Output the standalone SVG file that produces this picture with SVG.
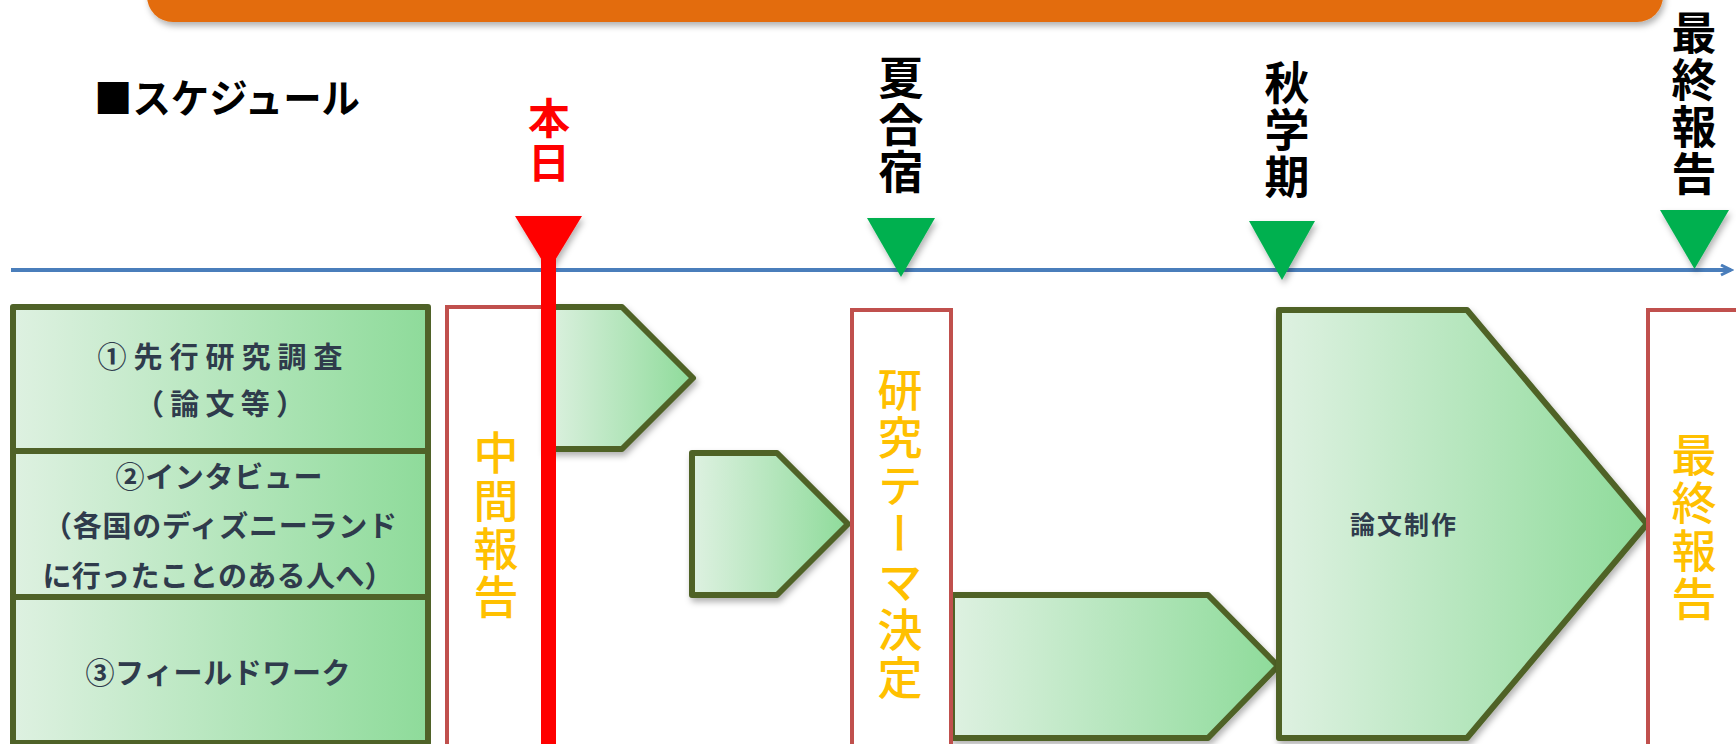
<svg xmlns="http://www.w3.org/2000/svg" width="1736" height="744" viewBox="0 0 1736 744">
<style>
.jp{font-family:"Noto Sans CJK JP","Noto Sans CJK SC",sans-serif;}
.box{stroke:#4F6228;stroke-width:6;stroke-linejoin:round;}
.rbox{fill:#FFFFFF;stroke:#C0504D;stroke-width:4;}
.lbl{font-size:29px;font-weight:700;fill:#2F3B4C;text-anchor:middle;}
.vt{writing-mode:vertical-rl;font-weight:700;}
.blk{fill:#000000;font-size:45px;letter-spacing:2px;}
.org{fill:#FFC000;font-size:45px;font-weight:500;letter-spacing:3px;}
.tri{fill:#00B050;}
</style>
<defs>
<linearGradient id="g" x1="0" y1="0" x2="1" y2="0">
<stop offset="0" stop-color="#DEF1E1"/>
<stop offset="1" stop-color="#8EDB9A"/>
</linearGradient>
<filter id="sh" x="-10%" y="-10%" width="130%" height="140%">
<feDropShadow dx="2" dy="4" stdDeviation="3" flood-color="#000" flood-opacity="0.3"/>
</filter>
<marker id="arr" markerWidth="14" markerHeight="14" refX="11" refY="6" orient="auto" markerUnits="userSpaceOnUse">
<path d="M1,1 L11,6 L1,11" fill="none" stroke="#4A7EBB" stroke-width="3"/>
</marker>
</defs>
<rect width="1736" height="744" fill="#FFFFFF"/>

<g id="banner">
<rect x="147" y="-40" width="1516" height="62" rx="26" fill="#E36C0A" filter="url(#sh)"/>
</g>

<g id="title">
<text class="jp" x="94" y="113" font-size="40" font-weight="700" fill="#000" textLength="266" lengthAdjust="spacingAndGlyphs">■スケジュール</text>
</g>

<g id="connectors">
<line x1="11" y1="270" x2="1731" y2="270" stroke="#4A7EBB" stroke-width="4" marker-end="url(#arr)"/>
</g>

<g id="box1">
<rect class="box" x="13" y="307" width="415" height="144" fill="url(#g)"/>
<text class="jp lbl" x="220" y="368" font-size="30" textLength="245" lengthAdjust="spacing">①先行研究調査</text>
<text class="jp lbl" x="220" y="415" font-size="28" textLength="170" lengthAdjust="spacing">（論文等）</text>
</g>
<g id="box2">
<rect class="box" x="13" y="451" width="415" height="146" fill="url(#g)"/>
<text class="jp lbl" x="219" y="488" textLength="207" lengthAdjust="spacing">②インタビュー</text>
<text class="jp lbl" x="220" y="537" textLength="354" lengthAdjust="spacing">（各国のディズニーランド</text>
<text class="jp lbl" x="218" y="587" textLength="351" lengthAdjust="spacing">に行ったことのある人へ）</text>
</g>
<g id="box3">
<rect class="box" x="13" y="597" width="415" height="146" fill="url(#g)"/>
<text class="jp lbl" x="218" y="684" textLength="265" lengthAdjust="spacing">③フィールドワーク</text>
</g>

<g id="chukan">
<rect class="rbox" x="447" y="307" width="100" height="445"/>
<text class="jp vt org" x="496" y="430">中間報告</text>
</g>

<g id="arrow1">
<path class="box" d="M545,307 L622,307 L693,378 L622,449 L545,449 Z" fill="url(#g)" filter="url(#sh)"/>
</g>
<g id="arrow2">
<path class="box" d="M692,453 L777,453 L848,524 L777,595 L692,595 Z" fill="url(#g)" filter="url(#sh)"/>
</g>
<g id="arrow3">
<path class="box" d="M952,595 L1208,595 L1278,666 L1208,738 L952,738 Z" fill="url(#g)" filter="url(#sh)"/>
</g>

<g id="theme">
<rect class="rbox" x="852" y="310" width="99" height="440"/>
<text class="jp vt org" x="900" y="367" letter-spacing="0">研究テーマ決定</text>
</g>

<g id="ronbun">
<path class="box" d="M1279,310 L1467,310 L1647,524 L1467,738 L1279,738 Z" fill="url(#g)" filter="url(#sh)"/>
<text class="jp" x="1403" y="534" font-size="25" font-weight="700" fill="#2F3B4C" text-anchor="middle" textLength="106" lengthAdjust="spacing">論文制作</text>
</g>

<g id="final">
<rect class="rbox" x="1648" y="310" width="100" height="440"/>
<text class="jp vt org" x="1694" y="432">最終報告</text>
</g>

<g id="today">
<text class="jp vt" x="549" y="97" font-size="42" fill="#FF0000" font-weight="500" letter-spacing="2">本日</text>
<polygon points="515,216 582,216 548.5,271" fill="#FF0000" filter="url(#sh)"/>
<rect x="541" y="248" width="15" height="500" fill="#FF0000"/>
</g>

<g id="summer">
<text class="jp vt blk" x="901" y="55">夏合宿</text>
<polygon class="tri" points="867,218 935,218 901,277" filter="url(#sh)"/>
</g>
<g id="autumn">
<text class="jp vt blk" x="1287" y="60">秋学期</text>
<polygon class="tri" points="1249,221 1315,221 1282,280" filter="url(#sh)"/>
</g>
<g id="finalmark">
<text class="jp vt blk" x="1694" y="10" letter-spacing="1">最終報告</text>
<polygon class="tri" points="1660,210 1729,210 1694.5,269" filter="url(#sh)"/>
</g>
</svg>
